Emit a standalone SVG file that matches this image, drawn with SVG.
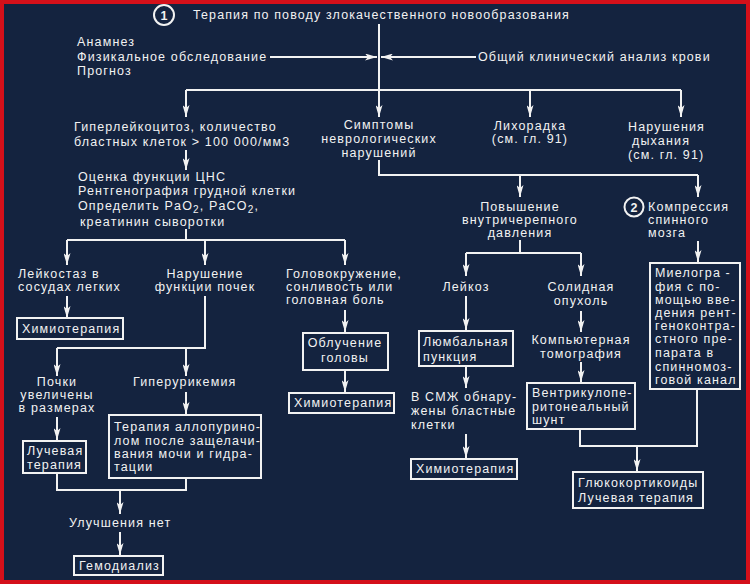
<svg xmlns="http://www.w3.org/2000/svg" width="750" height="584" viewBox="0 0 750 584">
<defs>
<style>
.t{font-family:"Liberation Sans",Arial,sans-serif;font-size:12.5px;fill:#f2f2f2;letter-spacing:1.15px}
.c{text-anchor:middle}
.ln{stroke:#f2f2f2;stroke-width:2;fill:none}
.a{marker-end:url(#ah)}
.bx{stroke:#f2f2f2;stroke-width:2;fill:none}
</style>
<marker id="ah" markerUnits="userSpaceOnUse" markerWidth="12" markerHeight="7" refX="12" refY="3.5" orient="auto">
<path d="M0,0 L12,3.5 L0,7 L3,3.5 z" fill="#f2f2f2"/>
</marker>
</defs>
<rect x="2" y="2" width="746" height="580" fill="#14233f" stroke="#d4101a" stroke-width="4"/>

<g id="connectors">
<line class="ln a" x1="379" y1="24" x2="379" y2="117"/>
<line class="ln a" x1="270" y1="57" x2="377" y2="57"/>
<line class="ln a" x1="476" y1="57" x2="381" y2="57"/>
<line class="ln" x1="186" y1="90" x2="681" y2="90"/>
<line class="ln a" x1="186" y1="90" x2="186" y2="117"/>
<line class="ln a" x1="530" y1="90" x2="530" y2="117"/>
<line class="ln a" x1="681" y1="90" x2="681" y2="117"/>
<line class="ln a" x1="186" y1="150" x2="186" y2="170"/>
<polyline class="ln" points="186,229 186,240"/>
<line class="ln" x1="67" y1="240" x2="345" y2="240"/>
<line class="ln a" x1="67" y1="240" x2="67" y2="265"/>
<line class="ln a" x1="205" y1="240" x2="205" y2="265"/>
<line class="ln a" x1="345" y1="240" x2="345" y2="265"/>
<line class="ln a" x1="67" y1="296" x2="67" y2="318"/>
<polyline class="ln" points="205,296 205,348 57,348"/>
<line class="ln a" x1="57" y1="348" x2="57" y2="376"/>
<line class="ln a" x1="186" y1="348" x2="186" y2="376"/>
<line class="ln a" x1="57" y1="417" x2="57" y2="440"/>
<line class="ln a" x1="186" y1="392" x2="186" y2="414"/>
<polyline class="ln" points="57,473 57,490 186,490 186,478"/>
<line class="ln a" x1="120" y1="490" x2="120" y2="514"/>
<line class="ln a" x1="120" y1="532" x2="120" y2="555"/>
<line class="ln a" x1="345" y1="310" x2="345" y2="332"/>
<line class="ln a" x1="345" y1="370" x2="345" y2="392"/>
<polyline class="ln" points="379,160 379,175 698,175"/>
<line class="ln a" x1="520" y1="175" x2="520" y2="197"/>
<line class="ln a" x1="698" y1="175" x2="698" y2="197"/>
<polyline class="ln" points="520,240 520,253"/>
<line class="ln" x1="466" y1="253" x2="581" y2="253"/>
<line class="ln a" x1="466" y1="253" x2="466" y2="276"/>
<line class="ln a" x1="581" y1="253" x2="581" y2="276"/>
<line class="ln a" x1="466" y1="296" x2="466" y2="330"/>
<line class="ln a" x1="466" y1="366" x2="466" y2="388"/>
<line class="ln a" x1="466" y1="434" x2="466" y2="458"/>
<line class="ln a" x1="581" y1="311" x2="581" y2="332"/>
<line class="ln a" x1="581" y1="362" x2="581" y2="382"/>
<line class="ln a" x1="698" y1="241" x2="698" y2="262"/>
<polyline class="ln" points="580,429 580,446 697,446 697,389"/>
<line class="ln a" x1="637" y1="446" x2="637" y2="471"/>
</g>

<g id="n-title">
<circle cx="164" cy="15" r="10" fill="none" stroke="#f2f2f2" stroke-width="2"/>
<text class="t c" x="164" y="20" font-weight="bold" style="letter-spacing:0">1</text>
<text class="t" x="193" y="19" textLength="377" lengthAdjust="spacingAndGlyphs">Терапия по поводу злокачественного новообразования</text>
</g>
<g id="n-anamnez">
<text class="t" x="77" y="46">Анамнез</text>
<text class="t" x="77" y="61">Физикальное обследование</text>
<text class="t" x="77" y="75">Прогноз</text>
</g>
<g id="n-blood">
<text class="t" x="478" y="61">Общий клинический анализ крови</text>
</g>
<g id="n-hyper">
<text class="t" x="74" y="131">Гиперлейкоцитоз, количество</text>
<text class="t" x="74" y="146">бластных клеток &gt; 100 000/мм3</text>
</g>
<g id="n-symptoms">
<text class="t c" x="379" y="129">Симптомы</text>
<text class="t c" x="379" y="143">неврологических</text>
<text class="t c" x="379" y="157">нарушений</text>
</g>
<g id="n-fever">
<text class="t c" x="530" y="130">Лихорадка</text>
<text class="t c" x="530" y="143">(см. гл. 91)</text>
</g>
<g id="n-breath">
<text class="t" x="628" y="131">Нарушения</text>
<text class="t" x="632" y="145">дыхания</text>
<text class="t" x="628" y="159">(см. гл. 91)</text>
</g>
<g id="n-eval">
<text class="t" x="78" y="181">Оценка функции ЦНС</text>
<text class="t" x="78" y="195">Рентгенография грудной клетки</text>
<text class="t" x="78" y="210">Определить PaO<tspan dy="3" font-size="10">2</tspan><tspan dy="-3">, PaCO</tspan><tspan dy="3" font-size="10">2</tspan><tspan dy="-3">,</tspan></text>
<text class="t" x="80" y="226">креатинин сыворотки</text>
</g>
<g id="n-leukostasis">
<text class="t" x="18" y="278">Лейкостаз в</text>
<text class="t" x="18" y="291">сосудах легких</text>
</g>
<g id="n-kidney">
<text class="t c" x="205" y="278">Нарушение</text>
<text class="t c" x="205" y="291">функции почек</text>
</g>
<g id="n-dizzy">
<text class="t" x="286" y="278">Головокружение,</text>
<text class="t" x="286" y="291">сонливость или</text>
<text class="t" x="286" y="304">головная боль</text>
</g>
<g id="n-chemo1">
<rect class="bx" x="17" y="318" width="106" height="21"/>
<text class="t" x="22" y="333">Химиотерапия</text>
</g>
<g id="n-kidneys-big">
<text class="t c" x="57" y="386">Почки</text>
<text class="t c" x="57" y="399">увеличены</text>
<text class="t c" x="57" y="412">в размерах</text>
</g>
<g id="n-hyperuric">
<text class="t" x="133" y="386">Гиперурикемия</text>
</g>
<g id="n-radiation1">
<rect class="bx" x="23" y="441" width="63" height="32"/>
<text class="t" x="27" y="455">Лучевая</text>
<text class="t" x="27" y="469">терапия</text>
</g>
<g id="n-allopurinol">
<rect class="bx" x="109" y="415" width="152" height="63"/>
<text class="t" x="114" y="431">Терапия аллопурино-</text>
<text class="t" x="114" y="445">лом после защелачи-</text>
<text class="t" x="114" y="458">вания мочи и гидра-</text>
<text class="t" x="114" y="471">тации</text>
</g>
<g id="n-noimprove">
<text class="t" x="69" y="527">Улучшения нет</text>
</g>
<g id="n-hemodialysis">
<rect class="bx" x="74" y="556" width="89" height="19"/>
<text class="t" x="79" y="570">Гемодиализ</text>
</g>
<g id="n-headrad">
<rect class="bx" x="303" y="333" width="85" height="37"/>
<text class="t c" x="345" y="347">Облучение</text>
<text class="t c" x="345" y="362">головы</text>
</g>
<g id="n-chemo2">
<rect class="bx" x="289" y="393" width="105" height="20"/>
<text class="t" x="294" y="407">Химиотерапия</text>
</g>
<g id="n-icp">
<text class="t c" x="520" y="211">Повышение</text>
<text class="t c" x="520" y="224">внутричерепного</text>
<text class="t c" x="520" y="237">давления</text>
</g>
<g id="n-cord">
<circle cx="634" cy="207" r="9.5" fill="none" stroke="#f2f2f2" stroke-width="2"/>
<text class="t c" x="634" y="212" font-weight="bold" style="letter-spacing:0">2</text>
<text class="t" x="648" y="211">Компрессия</text>
<text class="t" x="648" y="224">спинного</text>
<text class="t" x="648" y="237">мозга</text>
</g>
<g id="n-leukosis">
<text class="t c" x="466" y="291">Лейкоз</text>
</g>
<g id="n-solid">
<text class="t c" x="581" y="291">Солидная</text>
<text class="t c" x="581" y="305">опухоль</text>
</g>
<g id="n-lumbar">
<rect class="bx" x="419" y="331" width="94" height="35"/>
<text class="t" x="423" y="346">Люмбальная</text>
<text class="t" x="423" y="361">пункция</text>
</g>
<g id="n-csf">
<text class="t" x="411" y="401">В СМЖ обнару-</text>
<text class="t" x="411" y="415">жены бластные</text>
<text class="t" x="411" y="429">клетки</text>
</g>
<g id="n-chemo3">
<rect class="bx" x="411" y="459" width="106" height="20"/>
<text class="t" x="416" y="473">Химиотерапия</text>
</g>
<g id="n-ct">
<text class="t c" x="581" y="344">Компьютерная</text>
<text class="t c" x="581" y="358">томография</text>
</g>
<g id="n-shunt">
<rect class="bx" x="527" y="383" width="108" height="46"/>
<text class="t" x="532" y="397">Вентрикулопе-</text>
<text class="t" x="532" y="411">ритонеальный</text>
<text class="t" x="532" y="424">шунт</text>
</g>
<g id="n-myelo">
<rect class="bx" x="650" y="263" width="90" height="126"/>
<text class="t" x="655" y="277">Миелогра -</text>
<text class="t" x="655" y="291">фия с по-</text>
<text class="t" x="655" y="304">мощью вве-</text>
<text class="t" x="655" y="317">дения рент-</text>
<text class="t" x="655" y="330">геноконтра-</text>
<text class="t" x="655" y="343">стного пре-</text>
<text class="t" x="655" y="357">парата в</text>
<text class="t" x="655" y="371">спинномоз-</text>
<text class="t" x="655" y="384">говой канал</text>
</g>
<g id="n-gluco">
<rect class="bx" x="573" y="472" width="130" height="36"/>
<text class="t" x="578" y="487">Глюкокортикоиды</text>
<text class="t" x="578" y="502">Лучевая терапия</text>
</g>
</svg>
